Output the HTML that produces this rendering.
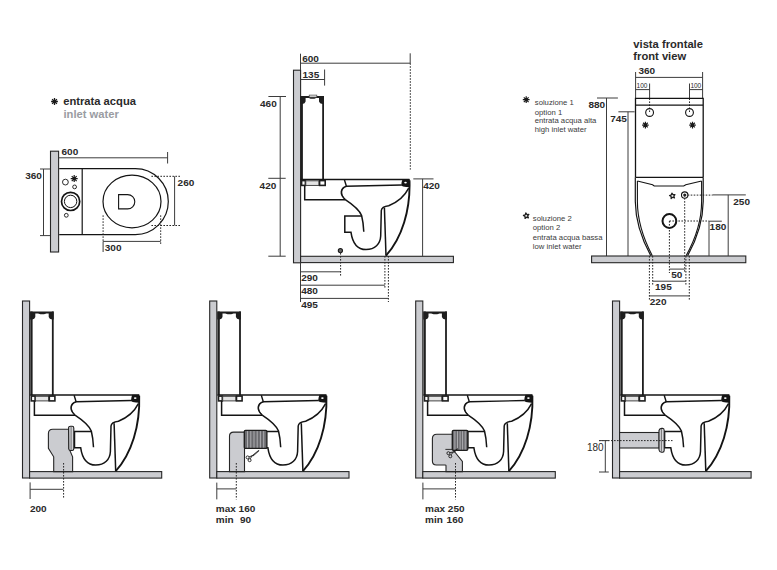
<!DOCTYPE html>
<html><head><meta charset="utf-8">
<style>
html,body{margin:0;padding:0;background:#fff;width:777px;height:570px;overflow:hidden}
svg{display:block}
text{font-family:"Liberation Sans",sans-serif;fill:#2a2a2a}
.n{font-size:9.2px;font-weight:bold}
.s{font-size:7.7px;fill:#3a3a3a}
.ln{stroke:#141414;fill:none;stroke-width:1.5}
.dm{stroke:#3c3c3c;fill:none;stroke-width:1}
.dt{stroke:#262626;fill:none;stroke-width:1;stroke-dasharray:1.6 1.4}
.gr{fill:#cbccd0;stroke:#262626;stroke-width:1.1}
</style></head>
<body>
<svg width="777" height="570" viewBox="0 0 777 570">
<defs>
<g id="t">
  <!-- tank -->
  <rect x="300.6" y="96" width="2.3" height="84" fill="#1e1e1e"/>
  <rect x="322.2" y="96" width="1.8" height="84" fill="#1e1e1e"/>
  <path d="M300.4,96 H324 V104 H322.4 Q319.6,103.8 319,101.6 V97.9 H305.6 V101.6 Q305,103.8 302.6,104 H300.4 Z" fill="#1e1e1e"/>
  <path d="M308.4,97.6 H316.6 Q315.8,98.7 314.4,98.7 H310.6 Q309.2,98.7 308.4,97.6 Z" fill="#1e1e1e"/>
  <!-- strip -->
  <line style="stroke-width:1.5" class="ln" x1="300.6" y1="179.6" x2="409.5" y2="179.6"/>
  <rect x="301.6" y="180.6" width="3.8" height="4.8" fill="#fff" stroke="#1e1e1e" stroke-width="1.6"/>
  <rect x="305.8" y="180.8" width="13.2" height="4.6" fill="#e4e4e4" stroke="#333" stroke-width="0.9"/>
  <rect x="319.6" y="180.6" width="5.6" height="4.8" fill="#fff" stroke="#1e1e1e" stroke-width="1.6"/>
  <path class="ln" d="M304.7,185.4 V199.7 H345.3"/>
  <path style="stroke-width:1.4" class="ln" d="M344.4,179.7 L346.4,186.3 L401.6,185"/>
  <path d="M402.6,179.2 H409.7 L410,187.2 L406.2,187 Q402.4,186.8 401.2,185.6 Q401.6,181 402.6,179.2 Z" fill="#141414"/>
  <ellipse cx="405.5" cy="182.6" rx="1.3" ry="0.9" fill="#fff"/>
  <!-- bowl back wall -->
  <path class="ln" d="M346.4,186.3 C340.5,188.3 339.2,194.2 345.3,199.6 C352,204 359,209 361.6,215.5 C363,221 363.5,226 363.8,231.7"/>
  <path style="stroke-width:0.8" class="ln" d="M343.5,187.6 C340.8,190.5 341.2,195.5 344.5,198.5"/>
  <!-- outlet + trap -->
  <path class="ln" d="M361.4,216.1 H344.8 V232.3 H351 C352.4,242 357,249.5 366,249.6 C375,249.6 380.3,244 380.7,236 L381.3,210.5 C381.6,207.6 384,206.4 388.7,205.8 C397,202.5 404.5,196.5 408.7,188.2"/>
  <path class="ln" d="M384.4,207.8 L386,255.6"/>
  <path style="stroke-width:1.9" class="ln" d="M409.5,180.3 C410.5,210 402,238 386,255.6"/>
</g>
</defs>

<!-- ============ PLAN VIEW ============ -->
<g id="plan">
  <path d="M51.10,101.50L57.90,101.50M52.10,99.10L56.90,103.90M54.50,98.10L54.50,104.90M56.90,99.10L52.10,103.90" stroke="#1a1a1a" stroke-width="1.3" fill="none"/><circle cx="54.5" cy="101.5" r="1.36" fill="#1a1a1a"/>
  <text x="63.2" y="105.1" style="font-size:11.2px;font-weight:bold">entrata acqua</text>
  <text x="63.5" y="118" style="font-size:11.2px;font-weight:bold;fill:#9a9ca2">inlet water</text>
  <rect class="gr" x="50.5" y="151.2" width="8.1" height="100.8"/>
  <path class="dm" d="M58.6,157.8 H167.6 M167.6,152 V163.5"/>
  <text class="n" transform="translate(61.5,155.2) scale(1.09,1)">600</text>
  <path style="stroke-width:1.2" class="ln" d="M59.2,168.6 H135.3 A33,33 0 0 1 135.3,234.6 H59.2 M82.2,168.6 V234.6"/>
  <ellipse style="stroke-width:1.2" class="ln" cx="132" cy="201.5" rx="29" ry="26.3"/>
  <path style="stroke-width:1.1" class="ln" d="M118.6,194.6 H127.6 A7.2,7.15 0 0 1 127.6,208.9 H118.6 Z"/>
  <circle style="stroke-width:1.7" class="ln" cx="70.6" cy="201.4" r="9.1"/>
  <circle style="stroke-width:1" class="ln" cx="70.6" cy="201.4" r="6.2"/>
  <circle style="stroke-width:0.9" class="ln" cx="65.4" cy="182.1" r="2.9"/>
  <circle style="stroke-width:0.9" class="ln" cx="74.6" cy="186.9" r="1.9"/>
  <circle style="stroke-width:0.9" class="ln" cx="66.3" cy="215.3" r="1.9"/>
  <path d="M70.70,178.60L77.70,178.60M71.73,176.13L76.67,181.07M74.20,175.10L74.20,182.10M76.67,176.13L71.73,181.07" stroke="#1a1a1a" stroke-width="1.2" fill="none"/><circle cx="74.2" cy="178.6" r="1.40" fill="#1a1a1a"/>
  <path class="dm" d="M43.5,169 V235.6 M40,169 H50 M40,235.6 H50"/>
  <text class="n" transform="translate(25.2,179.0) scale(1.09,1)">360</text>
  <path class="dm" d="M174.6,176.3 V225.5"/>
  <path class="dt" d="M151.4,176.3 H180.7 M151.4,225.5 H180.7"/>
  <text class="n" transform="translate(177.6,186.2) scale(1.09,1)">260</text>
  <path class="dm" d="M103.1,241.4 H160.7 M103.1,241.4 V252"/>
  <path class="dt" d="M103.1,215.3 V241.4 M160.7,215.3 V244"/>
  <text class="n" transform="translate(104.8,250.5) scale(1.09,1)">300</text>
</g>

<!-- ============ SIDE VIEW TOP ============ -->
<g id="side">
  <rect class="gr" x="293.5" y="70.2" width="7.1" height="192.6"/>
  <rect class="gr" x="300.6" y="256.3" width="152.8" height="6.3"/>
  <use href="#t"/>
  <rect x="309.2" y="95.1" width="7.6" height="2" fill="#f2f2f2" stroke="#444" stroke-width="0.7"/>
  <path class="dm" d="M300.5,53.7 V70.2 M300.5,63.2 H410.2 M410.2,53.3 V63.2 M300.5,79.5 H324.6 M324.6,69.5 V85.6"/>
  <path class="dt" d="M410.3,63.2 V169.6"/>
  <text class="n" transform="translate(302.2,61.7) scale(1.09,1)">600</text>
  <text class="n" transform="translate(302.5,77.9) scale(1.09,1)">135</text>
  <path class="dm" d="M268.4,96.5 H286 M280.2,96.5 V256.2 M268.3,178.3 H285.7 M268.3,256.2 H285.7"/>
  <text class="n" transform="translate(260.0,107.3) scale(1.09,1)">460</text>
  <text class="n" transform="translate(259.6,188.8) scale(1.09,1)">420</text>
  <path class="dm" d="M413.3,178.9 H433.5 M422.6,178.9 V256.3"/>
  <text class="n" transform="translate(423.2,188.7) scale(1.09,1)">420</text>
  <circle cx="340.4" cy="250.6" r="2.1" fill="#666" stroke="#1a1a1a" stroke-width="1.1"/>
  <path class="dt" d="M340.6,253 V275.7 M384.9,256 V289 M388.4,256 V302"/>
  <path class="dm" d="M300.5,262.5 V302 M300.5,271.8 H340.6 M300.5,285.2 H384.9 M300.5,298.4 H388.4"/>
  <text class="n" transform="translate(301.2,281.3) scale(1.09,1)">290</text>
  <text class="n" transform="translate(301.2,294.0) scale(1.09,1)">480</text>
  <text class="n" transform="translate(301.2,307.8) scale(1.09,1)">495</text>
</g>

<!-- ============ FRONT VIEW ============ -->
<g id="front">
  <text x="633.3" y="47.6" style="font-size:11.2px;font-weight:bold">vista frontale</text>
  <text x="633.3" y="60.4" style="font-size:11.2px;font-weight:bold">front view</text>
  <path class="dm" d="M635.6,77.4 H702.6 M635.6,72 V98.4 M702.6,72 V98.4"/>
  <text class="n" transform="translate(638.4,74.2) scale(1.09,1)">360</text>
  <path class="dm" d="M635.6,89.6 H649.6 M649.6,83.5 V98.4 M689.5,89.6 H702.6 M689.5,83.5 V98.4"/>
  <path class="dt" d="M649.6,98.4 V112.5 M689.5,98.4 V112.5"/>
  <text x="636.6" y="88.3" style="font-size:6.5px">100</text>
  <text x="690.4" y="88.3" style="font-size:6.5px">100</text>
  <!-- tank -->
  <path style="stroke-width:1.3" class="ln" d="M635.5,177.4 V98.4 H703.2 V177.4 M635.5,105.1 H703.2 M635.5,177.4 H703.2"/>
  <circle style="stroke-width:1.1" class="ln" cx="649.6" cy="112.5" r="3.9"/>
  <circle style="stroke-width:1.1" class="ln" cx="689.5" cy="112.5" r="3.9"/>
  <path d="M642.10,125.10L648.70,125.10M643.07,122.77L647.73,127.43M645.40,121.80L645.40,128.40M647.73,122.77L643.07,127.43" stroke="#1a1a1a" stroke-width="1.2" fill="none"/><circle cx="645.4" cy="125.1" r="1.32" fill="#1a1a1a"/>
  <path d="M689.20,125.10L695.80,125.10M690.17,122.77L694.83,127.43M692.50,121.80L692.50,128.40M694.83,122.77L690.17,127.43" stroke="#1a1a1a" stroke-width="1.2" fill="none"/><circle cx="692.5" cy="125.1" r="1.32" fill="#1a1a1a"/>
  <!-- bowl -->
  <path style="stroke-width:1.2" class="ln" d="M635.3,177.4 V201.6 C635.5,222 641,238 650.8,255.8"/>
  <path style="stroke-width:1.1" class="ln" d="M637.4,181 V201.6 C637.4,222 643,238 652.3,255.8"/>
  <path style="stroke-width:1.2" class="ln" d="M703.2,177.4 V201.6 C703,222 697.5,238 687.6,255.8"/>
  <path style="stroke-width:1.1" class="ln" d="M701.6,181 V201.6 C701.6,222 696,238 686.1,255.8"/>
  <path style="stroke-width:1.1" class="ln" d="M637.4,181 L652.6,184.7 L654.2,186 H683.7 L685.8,184.7 L701.6,181"/>
  <polygon points="671.90,193.04 673.01,194.64 674.96,194.54 673.79,196.09 674.49,197.91 672.64,197.28 671.13,198.51 671.16,196.56 669.53,195.50 671.39,194.93" fill="none" stroke="#1e1e1e" stroke-width="1.25" stroke-linejoin="round"/>
  <circle style="stroke-width:1.1" class="ln" cx="684.7" cy="195.1" r="3.2"/>
  <circle cx="684.7" cy="195.1" r="1.5" fill="#1e1e1e"/>
  <circle style="stroke-width:2" class="ln" cx="669.4" cy="221" r="6.9"/>
  <!-- dims -->
  <path class="dm" d="M597,98 H617.9 M606.5,98 V256"/>
  <text class="n" transform="translate(588.4,108.0) scale(1.09,1)">880</text>
  <path class="dm" d="M618.4,111.8 H634.6 M628,111.8 V256"/>
  <text class="n" transform="translate(610.2,121.8) scale(1.09,1)">745</text>
  <rect class="gr" x="591.6" y="256" width="154.2" height="6.7"/>
  <path class="dt" d="M684.7,195.1 H712.5 M669.4,221 H709"/>
  <path class="dm" d="M712.5,194.9 H745.8 M728.2,194.9 V256 M709,221.2 H721.8 M709,221.2 V256"/>
  <text class="n" transform="translate(733.3,204.9) scale(1.09,1)">250</text>
  <text class="n" transform="translate(709.6,229.8) scale(1.09,1)">180</text>
  <path class="dt" d="M669.4,221 V273 M684.7,195.1 V273 M649.4,256 V300.2 M689.3,256 V300.2 M652.7,256 V285.5 M685.9,256 V285.5"/>
  <path class="dm" d="M669.6,269.1 H684.7 M652.7,281.2 H685.9 M649.4,295.9 H689.3"/>
  <text class="n" transform="translate(671.3,278.1) scale(1.09,1)">50</text>
  <text class="n" transform="translate(655.0,290.0) scale(1.09,1)">195</text>
  <text class="n" transform="translate(649.8,304.7) scale(1.09,1)">220</text>
  <!-- notes -->
  <path d="M522.80,99.70L529.60,99.70M523.80,97.30L528.60,102.10M526.20,96.30L526.20,103.10M528.60,97.30L523.80,102.10" stroke="#1a1a1a" stroke-width="1.2" fill="none"/><circle cx="526.2" cy="99.7" r="1.36" fill="#1a1a1a"/>
  <text class="s" x="534.8" y="105">soluzione 1</text>
  <text class="s" x="534.8" y="115">option 1</text>
  <text class="s" x="534.8" y="123.3">entrata acqua alta</text>
  <text class="s" x="534.8" y="132">high inlet water</text>
  <polygon points="525.80,212.94 526.91,214.54 528.86,214.44 527.69,215.99 528.39,217.81 526.54,217.18 525.03,218.41 525.06,216.46 523.43,215.40 525.29,214.83" fill="none" stroke="#1e1e1e" stroke-width="1.25" stroke-linejoin="round"/>
  <text class="s" x="532.8" y="221">soluzione 2</text>
  <text class="s" x="532.8" y="230.2">option 2</text>
  <text class="s" x="532.8" y="240">entrata acqua bassa</text>
  <text class="s" x="532.8" y="249.1">low inlet water</text>
</g>

<!-- ============ BOTTOM VIEWS ============ -->
<g id="bottom">
  <!-- view 1 -->
  <rect class="gr" x="22.5" y="301" width="7.1" height="177"/>
  <rect class="gr" x="29.6" y="471.6" width="132.1" height="6.5"/>
  <use href="#t" transform="translate(-270.3,215.5)"/>
  <path class="gr" d="M48.4,448.4 V433.6 Q48.4,429.3 52.8,429.3 H69 V448.4 L72.6,456.8 V471.6 H53.7 V456.8 Z"/>
  <path d="M68.6,427.6 Q68.6,426.3 70.5,426.3 H72.2 Q73.8,426.3 73.8,428 V448.8 Q73.8,450.5 72.2,450.5 H70.5 Q69,450.5 68.8,449 Z" fill="#d6d6da" stroke="#1e1e1e" stroke-width="1.1"/>
  <line x1="71.1" y1="426.8" x2="71.1" y2="450" stroke="#444" stroke-width="0.7"/>
  <path class="dm" d="M30.1,482.4 V499 M30.1,489.3 H63.4"/>
  <path class="dt" d="M63.6,463 V499"/>
  <text class="n" transform="translate(29.9,512.1) scale(1.09,1)">200</text>
  <!-- view 2 -->
  <rect class="gr" x="209.7" y="301" width="7.1" height="177"/>
  <rect class="gr" x="216.8" y="471.6" width="132.2" height="6.5"/>
  <use href="#t" transform="translate(-83.1,215.5)"/>
  <path class="gr" d="M229.5,471.6 V436.2 Q229.5,432.1 233.6,432.1 H244.5 V471.6 Z"/>
  <rect x="244.3" y="430.3" width="22.6" height="18.1" rx="1.2" fill="#6a6a6e" stroke="#1e1e1e" stroke-width="1.3"/><line x1="247.5" y1="431.1" x2="247.5" y2="447.6" stroke="#b4b4b8" stroke-width="0.9"/><line x1="250.8" y1="431.1" x2="250.8" y2="447.6" stroke="#b4b4b8" stroke-width="0.9"/><line x1="254.0" y1="431.1" x2="254.0" y2="447.6" stroke="#b4b4b8" stroke-width="0.9"/><line x1="257.2" y1="431.1" x2="257.2" y2="447.6" stroke="#b4b4b8" stroke-width="0.9"/><line x1="260.4" y1="431.1" x2="260.4" y2="447.6" stroke="#b4b4b8" stroke-width="0.9"/><line x1="263.7" y1="431.1" x2="263.7" y2="447.6" stroke="#b4b4b8" stroke-width="0.9"/>
  <g stroke="#1a1a1a" fill="none" stroke-width="0.9"><path d="M251.70000000000002,456.1 L258.8,450.3 M252.8,456.20000000000005 L259.2,450.6"/><circle cx="247.6" cy="457.4" r="1.5"/><circle cx="249.6" cy="460.2" r="1.5"/><path d="M248.9,457.0 L252.3,455.6 M250.1,458.9 L252.3,455.6"/></g>
  <path class="dm" d="M216.8,482.6 V499.4 M216.8,488.9 H236.3"/>
  <path class="dt" d="M236.3,463 V499.4"/>
  <text class="n" transform="translate(215.8,512.2) scale(1.09,1)">max 160</text>
  <text class="n" transform="translate(215.8,523.1) scale(1.09,1)">min</text>
  <text class="n" transform="translate(240.0,523.1) scale(1.09,1)">90</text>
  <!-- view 3 -->
  <rect class="gr" x="415.7" y="301" width="7.1" height="177"/>
  <rect class="gr" x="422.8" y="471.6" width="132.5" height="6.5"/>
  <use href="#t" transform="translate(122.9,215.5)"/>
  <path class="gr" d="M432.4,461 V438.6 Q432.4,434.2 436.8,434.2 H452.5 V449.4 L455.2,452.5 L462.4,461.4 V471.6 H446 V465.5 Q446,465 445,465 H436.4 Q432.4,465 432.4,461 Z"/>
  <path d="M445.4,449.4 H452.5" stroke="#1e1e1e" stroke-width="0.9"/>
  <rect x="452.3" y="430.4" width="15.5" height="19.9" rx="1.2" fill="#6a6a6e" stroke="#1e1e1e" stroke-width="1.3"/><line x1="454.9" y1="431.2" x2="454.9" y2="449.5" stroke="#b4b4b8" stroke-width="0.9"/><line x1="457.5" y1="431.2" x2="457.5" y2="449.5" stroke="#b4b4b8" stroke-width="0.9"/><line x1="460.1" y1="431.2" x2="460.1" y2="449.5" stroke="#b4b4b8" stroke-width="0.9"/><line x1="462.6" y1="431.2" x2="462.6" y2="449.5" stroke="#b4b4b8" stroke-width="0.9"/><line x1="465.2" y1="431.2" x2="465.2" y2="449.5" stroke="#b4b4b8" stroke-width="0.9"/>
  <g stroke="#1a1a1a" fill="none" stroke-width="0.9"><path d="M452.79999999999995,452.4 L457.5,448.6 M453.9,452.5 L457.9,448.90000000000003"/><circle cx="448.4" cy="453.2" r="1.5"/><circle cx="450.3" cy="456.3" r="1.5"/><path d="M449.7,452.8 L453.4,451.9 M450.8,455.0 L453.4,451.9"/></g>
  <path class="dm" d="M422.9,482.6 V499.4 M422.9,488.9 H455.5"/>
  <path class="dt" d="M455.5,463 V499.4"/>
  <text class="n" transform="translate(425.0,512.2) scale(1.09,1)">max 250</text>
  <text class="n" transform="translate(425.0,523.1) scale(1.09,1)">min</text>
  <text class="n" transform="translate(446.6,523.1) scale(1.09,1)">160</text>
  <!-- view 4 -->
  <rect class="gr" x="612.5" y="301" width="7.1" height="177"/>
  <rect class="gr" x="619.6" y="471.6" width="131.5" height="6.5"/>
  <use href="#t" transform="translate(319.8,215.5)"/>
  <rect class="gr" x="619.6" y="432.5" width="39.6" height="15.5"/>
  <path d="M659,430.5 Q659.5,428.4 661.5,428.4 H662.6 Q664.2,428.4 664.2,430.4 V450.2 Q664.2,452.2 662.6,452.2 H661.5 Q659.5,452.2 659,450 Z" fill="#d6d6da" stroke="#1e1e1e" stroke-width="1.1"/>
  <line x1="661.4" y1="429" x2="661.4" y2="451.6" stroke="#444" stroke-width="0.7"/>
  <path class="dt" d="M599,440.6 H672.5"/>
  <path class="dm" d="M605.3,440.6 V472 M599,472 H608.8 M599,440.6 H608.8"/>
  <text x="587" y="451.4" style="font-size:10px">180</text>
</g>
</svg>
</body></html>
